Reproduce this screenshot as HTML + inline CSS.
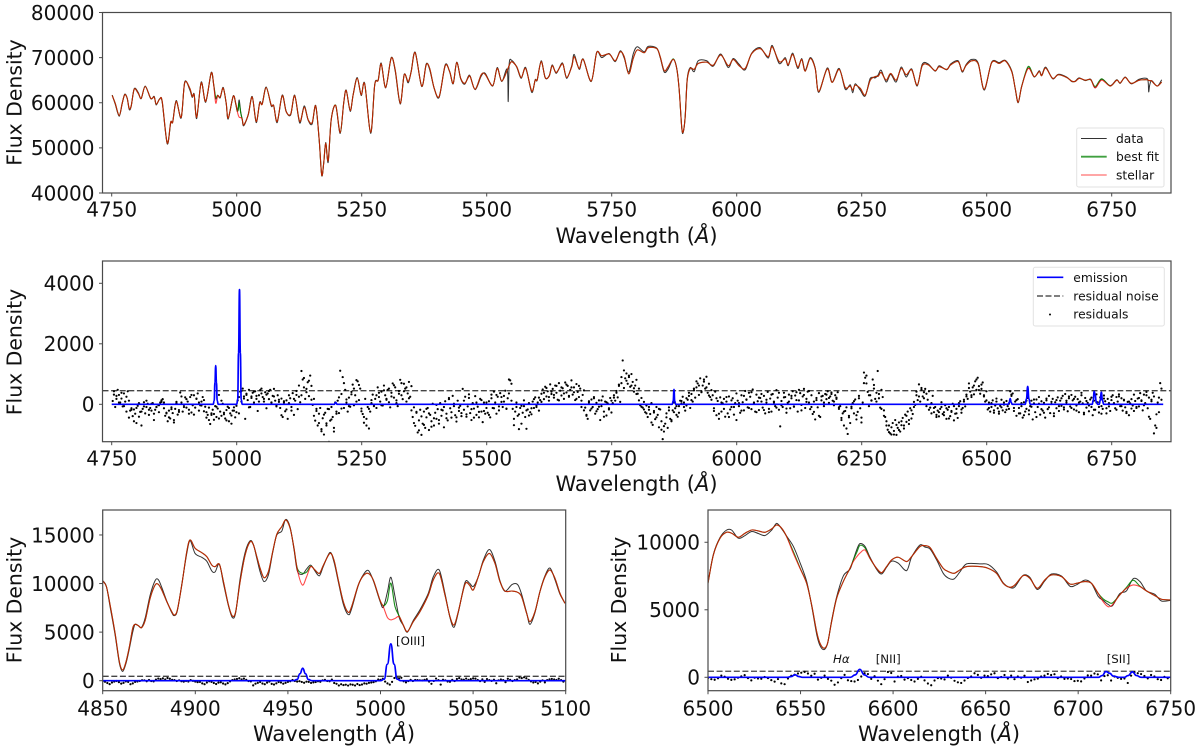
<!DOCTYPE html>
<html lang="en">
<head>
<meta charset="utf-8">
<title>Spectral fit</title>
<style>
html,body{margin:0;padding:0;background:#fff;}
svg{display:block;font-family:"DejaVu Sans","Liberation Sans",sans-serif;}
.tick{font-size:20px;fill:#111;}
.axis-label{font-size:21px;fill:#111;}
.y-title{font-size:20.4px;fill:#111;}
.legend-text{font-size:12.3px;fill:#111;}
.annot{font-size:11.8px;fill:#111;}
</style>
</head>
<body>
<svg id="figure" width="1200" height="752" viewBox="0 0 1200 752" xmlns="http://www.w3.org/2000/svg">
<rect x="0" y="0" width="1200" height="752" fill="#fff"/>
<defs id="defs"></defs>
<g id="plots"></g>

<g>
<rect x="1076.7" y="128" width="87.3" height="59" rx="2" fill="#fff" fill-opacity="0.8" stroke="#e2e2e2" stroke-width="1"/>
<line x1="1081" x2="1106.7" y1="138.5" y2="138.5" stroke="#333" stroke-width="1"/>
<text class="legend-text" x="1116" y="143">data</text>
<line x1="1081" x2="1106.7" y1="156.7" y2="156.7" stroke="#008000" stroke-opacity="0.75" stroke-width="1.8"/>
<text class="legend-text" x="1116" y="161.2">best fit</text>
<line x1="1081" x2="1106.7" y1="175" y2="175" stroke="#ff0000" stroke-opacity="0.7" stroke-width="0.9"/>
<text class="legend-text" x="1116" y="179.5">stellar</text>
</g>

<g>
<rect x="1033.3" y="267.3" width="131" height="58.7" rx="2" fill="#fff" fill-opacity="0.8" stroke="#e2e2e2" stroke-width="1"/>
<line x1="1037" x2="1063.3" y1="277.3" y2="277.3" stroke="#0000ff" stroke-width="1.7"/>
<text class="legend-text" x="1073.3" y="281.8">emission</text>
<line x1="1037" x2="1063.3" y1="296" y2="296" stroke="#555" stroke-width="1.4" stroke-dasharray="6 2.5"/>
<text class="legend-text" x="1073.3" y="300.5">residual noise</text>
<circle cx="1050" cy="314.5" r="1" fill="#000"/>
<text class="legend-text" x="1073.3" y="318.5">residuals</text>
</g>

<text class="annot" x="396" y="645">[OIII]</text>
<text class="annot" x="833" y="663" font-style="italic">Hα</text>
<text class="annot" x="875.7" y="663">[NII]</text>
<text class="annot" x="1106.7" y="663">[SII]</text>
</svg>

<script>
// ---------- Full-range spectrum ----------
const topWave = [
4751,4757,4765,4771,4776,4781,4785,4789,4795,4803,
4809,4817,4828,4835,4839,4846,4851,4861,4868,4872,
4879,4889,4896,4906,4911,4915,4920,4929,4938,4949,
4954,4958,4962,4967,4973,4979,4983,4993,4998,5001,
5003,5005,5008,5011,5014,5023,5031,5039,5046,5051,
5059,5069,5074,5081,5091,5099,5108,5116,5126,5135,
5143,5151,5158,5165,5170,5174,5178,5183,5189,5198,
5207,5214,5219,5227,5233,5241,5249,5256,5268,5276,
5283,5289,5298,5309,5317,5327,5335,5343,5349,5357,
5370,5379,5386,5395,5405,5417,5426,5433,5440,5448,
5456,5463,5467,5477,5489,5497,5512,5521,5530,5541,
5543,5545,5550,5560,5569,5578,5590,5597,5601,5609,
5617,5625,5631,5639,5649,5653,5660,5670,5675,5685,
5693,5709,5720,5730,5745,5757,5767,5775,5784,5793,
5801,5815,5823,5840,5847,5855,5863,5873,5880,5885,
5890,5893,5897,5901,5907,5915,5923,5940,5953,5968,
5983,5993,6005,6017,6030,6047,6063,6071,6085,6097,
6103,6112,6122,6130,6137,6147,6157,6164,6181,6191,
6205,6217,6227,6232,6237,6247,6257,6267,6277,6283,
6289,6299,6308,6319,6329,6339,6350,6361,6371,6383,
6397,6405,6420,6428,6443,6451,6459,6470,6483,6495,
6510,6525,6537,6550,6557,6563,6570,6583,6595,6605,
6610,6618,6632,6643,6660,6670,6677,6685,6697,6708,
6717,6730,6747,6760,6767,6777,6789,6805,6820,6823,
6824,6826,6830,6841,6850];
const topStellar = [
61620,59900,57200,59900,61770,61000,58750,59300,63000,62100,
61000,63600,61000,61250,59700,60800,60300,51100,55700,55700,
60300,56800,64400,63250,61400,61700,56800,64400,60300,66570,
64000,59930,61550,61260,63250,59930,56600,61400,59900,58200,
57300,56800,56700,56400,55100,57300,61250,55850,59950,59700,
63350,59500,59300,55850,61550,58000,57500,61550,55850,59000,
56200,55600,59300,51800,44000,46600,51000,47200,56200,59400,
53400,59900,62700,58300,61800,65400,61800,64150,53450,63900,
65000,68600,63400,69850,67300,59900,66200,64700,66900,71100,
63700,68400,67600,63200,61400,68200,66900,64300,68900,65400,
64300,65600,65800,63000,66200,66300,63800,67600,64800,67200,
67700,68300,69100,68000,65600,67600,62600,65000,65100,69100,
65600,65900,68200,66700,68400,68400,65600,68000,70200,67600,
69600,64800,71100,70400,70800,69300,71300,70200,66400,69800,
71700,71100,72200,72000,70200,67100,68000,69600,67600,62800,
54700,53600,56900,65000,67600,67400,68700,69000,68300,70600,
68200,69600,68200,67600,70900,72000,70200,72400,69100,69700,
68400,70700,67900,69600,67000,69800,67600,62500,67500,64500,
67400,63400,63700,62800,63900,63200,61700,65000,65800,65900,
66700,65000,66500,65000,67600,66200,67300,63900,68200,68400,
67100,68000,67400,68400,69100,67000,68300,69300,68600,63000,
68900,68700,69300,66900,63200,60100,63600,67600,65800,66900,
66000,67700,65400,66200,65600,64800,64700,65400,65000,65100,
63300,65000,63700,65000,64400,65600,64300,65000,65100,65000,
64950,64900,64800,63700,64600];
const topData = [
61700,59700,57000,59800,61900,61000,58500,59200,63100,62300,
60900,63700,60900,61400,59500,60900,60100,50900,55500,55800,
60500,56600,64600,62900,61200,61900,56500,64600,60100,66700,
63900,60900,61700,61100,63400,59800,56400,61500,59700,58100,
59000,60600,58000,56300,54900,57400,61400,55600,60100,59800,
63500,59300,59400,55600,61700,58100,57300,61700,55500,59300,
56100,55300,59400,51600,43900,46600,51200,46800,56300,59300,
53200,60000,62800,58100,61900,65600,61600,64300,53200,64000,
65100,68800,63300,70000,67000,59700,66300,64400,67000,71200,
63600,68600,67300,63200,61200,68400,66800,64200,69000,65300,
64100,65800,65900,62900,65900,66500,63700,67800,64700,67400,
60260,68700,69400,67900,65400,67800,62300,65100,65000,69300,
65500,66000,68400,66500,68600,68500,65400,68200,70700,67400,
69700,64700,71200,70000,70900,69100,71500,69900,66800,70800,
72400,71300,72500,72100,70000,66800,67500,69700,67700,62900,
54500,53400,57100,65300,67800,66900,69300,69300,68100,70800,
67800,69800,68500,67300,71000,72200,69900,72700,68700,70000,
68200,71000,67600,69800,67200,70000,67700,62300,67700,64600,
67600,63000,64000,62200,64200,62800,61500,65400,65500,66200,
67200,64600,66300,64600,67900,65700,67500,63700,68500,68600,
67000,68200,67300,68600,69300,66800,68500,69600,68800,62800,
69000,68900,69400,67100,63100,60000,63700,67700,65700,67100,
66100,67900,65300,66300,65700,64700,64800,65500,64900,65200,
63300,65200,63800,65100,64300,65700,64200,65200,65400,64500,
62400,63900,64900,63700,65100];

// ---------- Emission model ----------
const emissionWave = [4750,4953,4955,4956.5,4958,4959.5,4961,4963,5000,5002,5003.7,5005.6,5007.3,5009,5011,5195,5198,5201,5871,5873,5874.6,5876,5878,6543,6545,6547,6549,6551,6577,6579.5,6582,6584.5,6587,6711,6713,6715,6717,6719,6722,6725,6727,6729.3,6731.5,6734,6737,6853];
const emissionFlux = [0,0,120,720,1280,720,120,0,0,160,1700,3790,1700,160,0,0,60,0,0,110,490,110,0,0,60,190,60,0,0,180,590,180,0,0,130,430,300,90,0,0,130,400,130,0,0,0];
const residualNoise = [450, 450];

// ---------- Residuals, sampled every 2.5 A from 4752 ----------
const mainResidualStart = 4752;
const mainResidualStep = 2.5;
const mainResiduals = [
110,430,-90,280,480,310,60,190,-70,360,90,250,430,120,-210,-130,-390,-170,-310,-620,
-50,-410,-250,-700,-150,70,-300,-90,20,-350,-120,-210,40,-520,-180,-90,-10,-260,60,130,
170,-130,-380,-300,-560,-210,-470,-100,-290,-600,-150,80,-340,-190,390,60,-240,-20,230,-110,
90,-310,240,-270,-30,300,-110,180,360,-210,-30,90,240,140,-80,-260,-350,-520,-650,-300,
-180,-510,-60,-420,-140,310,-240,-380,20,-330,-470,-190,-80,-560,-300,-640,-210,-100,-430,-260,
130,-300,420,90,520,260,-480,310,140,480,-90,260,380,60,430,180,-220,300,470,520,
240,90,400,-130,360,170,480,60,280,510,120,-40,300,80,-120,190,-420,60,-230,130,
-480,40,200,-90,370,-350,120,310,-160,250,70,1100,820,560,180,400,730,270,950,610,
-20,180,-540,-220,-700,-310,-120,-820,-460,-1000,-280,-630,-150,-1240,-540,-90,-420,-780,60,-310,
120,-290,1110,340,900,-120,480,60,-240,220,-80,410,650,-30,300,800,760,140,520,-140,
-320,-610,180,-480,-90,-800,-240,40,320,-60,180,-120,560,240,90,420,-40,620,300,150,
480,70,-100,380,690,220,560,130,-60,440,810,300,170,680,520,90,360,740,250,600,
-420,-100,-710,-280,-930,-530,-180,-1010,-640,-240,-780,-430,-120,-850,-350,-560,20,-700,-280,-480,
-160,-640,40,-380,-200,-760,100,-310,-530,210,-130,-440,280,-60,-360,-570,120,-220,-50,-390,
510,-180,250,-410,-70,330,-290,-520,40,-140,270,-350,-80,-430,180,-240,-590,60,-310,-120,
-280,100,-430,320,-120,420,60,-310,250,-200,370,80,-90,280,450,-150,200,820,790,120,
-150,-690,-240,60,-380,-820,-120,-50,-280,130,-420,-810,-170,40,-260,-330,90,-120,230,-90,
60,-210,140,350,490,170,580,260,430,120,660,340,510,220,620,380,150,700,450,290,
530,180,720,390,610,250,480,790,320,560,140,670,410,240,520,-90,310,460,-110,-350,
-480,100,-200,160,-90,240,-310,50,-160,130,-520,-60,260,-240,90,-370,30,-130,210,-270,
40,300,120,440,230,610,80,700,1450,540,860,1020,680,900,580,1000,740,420,620,810,
350,520,-30,210,-110,80,-260,-40,-420,-180,-320,40,-680,-220,-490,-90,-350,-760,-170,-560,
-1150,-900,-640,-300,-780,-100,-480,-560,-200,60,-130,-350,-410,-60,120,30,250,60,-210,-40,
150,280,-120,340,90,460,220,560,690,310,860,430,620,750,520,910,380,680,240,470,
300,-130,420,-360,110,-480,230,-240,30,180,-410,90,-300,260,-170,-90,200,-340,40,-520,
120,-60,-280,300,70,-200,440,150,-100,380,250,-160,490,30,-240,320,100,-190,210,340,
-110,280,-300,60,410,-150,190,-240,340,90,-60,470,220,-180,-730,110,-90,380,240,-280,
50,320,-130,200,430,-80,290,140,-240,480,370,-20,260,510,-120,180,420,60,-160,300,
-320,90,-500,210,-100,370,-420,130,280,-60,340,170,430,50,260,390,120,-30,300,180,
400,-150,-60,-450,-300,-700,-220,-100,-980,-380,-620,-80,40,-300,160,-500,-250,280,-130,-440,
60,1050,880,690,410,-60,300,130,820,520,180,90,1100,340,-110,480,240,-200,-420,-560,
-840,-700,-960,-1000,-620,-880,-520,-1010,-780,-600,-900,-690,-450,-800,-340,-580,-240,-650,-130,-470,
-320,-90,-20,300,140,660,90,540,260,400,510,350,150,430,-110,40,280,-260,-90,-350,
-210,-400,-150,70,-320,-260,-30,-480,-180,-90,-390,-250,20,-530,-310,-150,-450,-60,100,-280,
-120,150,-70,320,180,690,420,240,560,330,760,480,880,600,350,510,720,260,90,430,
-170,60,-240,-90,130,-280,-40,190,-130,-310,-50,150,-200,-10,-260,110,-60,-150,430,280,
360,-220,90,-380,170,-120,-300,40,-440,70,-240,-150,210,-330,-60,120,-500,30,-260,160,
-90,240,-340,100,-210,50,-440,130,-160,280,-290,10,180,-390,70,-130,230,-220,120,-50,
280,-100,340,60,-230,200,-70,310,130,-170,250,-40,170,-260,90,380,30,-330,210,-110,
50,-230,160,-90,-360,120,-180,330,70,-270,230,-60,-150,290,100,-300,180,-70,-220,140,
300,40,-130,240,90,330,-60,200,-210,130,-100,-290,80,-360,30,170,-40,-220,110,-120,
190,-70,370,110,-200,320,40,410,-130,220,-480,150,380,-960,-700,-330,60,220,700,150];
// Second interleaved set of residual samples, every 5 A from 4754.5
const extraResidualStart = 4754.5;
const extraResidualStep = 5;
const extraResiduals = [
320,180,60,380,-60,-240,-440,-180,-560,-120,40,-240,-70,120,-180,20,-310,-90,-30,80,
60,-280,-430,-160,-520,40,-250,260,-90,170,-180,310,-340,190,60,-40,-230,-440,-110,-350,
-320,-80,-470,120,-280,-530,-120,-370,-210,-50,240,440,190,350,-100,210,420,280,90,360,
180,320,440,60,260,-70,150,-360,100,-170,300,-210,180,440,620,300,870,510,780,150,
-380,-150,-620,-890,-340,-700,-160,-500,-900,-240,230,-140,700,160,-60,330,520,90,640,-230,
-420,-700,-150,140,-20,300,380,-30,460,180,520,260,630,40,350,700,430,560,200,-200,
-620,-250,-860,-400,-680,-150,-300,-740,-460,-20,-520,-180,-90,-460,170,-260,20,-430,-110,-290,
120,-330,210,-160,-440,60,-250,140,-220,60,-350,200,-130,310,-70,240,90,-140,360,680,
-480,-90,-330,-640,-60,-200,-370,-130,170,-40,220,80,380,540,240,420,310,610,130,560,
360,650,280,560,400,180,610,120,-200,-380,60,-140,200,-230,-80,130,-410,70,-170,120,
220,380,650,900,1120,780,950,620,530,340,130,-80,-170,-300,-90,-600,-270,-430,-150,-840,
-720,-430,-200,-520,-260,-60,-280,110,-90,200,380,140,520,760,620,400,820,560,290,150,
-220,200,-310,60,-150,240,-420,130,-90,360,40,-210,280,160,-120,400,60,-260,220,90,
-190,150,-260,320,60,-110,380,-30,230,-140,90,280,-70,400,130,-200,310,80,440,-90,
-250,140,-380,260,60,320,210,340,90,220,-100,-520,-240,-800,-430,-130,100,-360,200,-600,
700,950,300,120,640,380,200,-150,-380,-700,-920,-760,-1000,-680,-850,-560,-700,-380,-520,-200,
80,420,260,480,200,-60,-180,-300,-120,-420,-260,-90,-360,-130,-470,-220,-60,-300,40,-170,
90,260,540,300,620,820,470,650,300,130,-120,40,-200,90,-240,-100,60,-180,20,320,
-120,140,-300,-60,-360,120,-200,-80,160,-420,20,-160,-280,190,-100,80,-300,140,-60,200,
-170,120,260,-120,180,-210,60,300,-280,110,-40,220,-180,60,-90,-310,190,-130,40,250,
20,-180,260,-60,150,-250,90,-140,320,-90,210,130,-30,300,-410,100,260,-780,-260,520];

// ---------- OIII zoom ----------
const blueWave = [
4850,4852,4854,4856.7,4859,4860.8,4862.6,4864.4,4866.2,4867.5,
4869.3,4871,4873,4875.6,4878.3,4880,4881.9,4884.6,4887.3,4888.7,
4890.3,4892.7,4895.4,4897.2,4899.9,4903.5,4906.2,4908.9,4910.7,4913,
4915.2,4917.9,4920,4921.8,4924.2,4926.9,4929.6,4931.4,4933.2,4935,
4937.1,4939.5,4941.8,4944,4946.7,4948.8,4951.2,4953.3,4955.1,4957.8,
4960.1,4962.3,4964.6,4967,4969.2,4972.7,4974.9,4977.2,4979.9,4982.6,
4984.4,4988,4990.7,4993.4,4996.1,4999.7,5001.5,5003.7,5005.6,5007.8,
5010.1,5012.3,5014.5,5017.7,5021.3,5025.8,5028.5,5031.7,5034.8,5037.5,
5039.7,5042,5045.6,5048,5050.1,5052.8,5055.5,5058.8,5061.8,5064.5,
5067.2,5071,5074,5076.2,5078.9,5080.7,5083.4,5086.1,5088.8,5091.5,
5094.2,5096.9,5099.6];
const blueStellar = [
10265,9680,7790,4875,1957,1100,1957,3500,5390,5800,
5660,5460,6250,8480,9850,9920,9340,8140,7100,6760,
7280,9850,13290,14490,13630,13180,12770,11900,11740,11980,
10200,7790,6660,7100,10200,12940,14300,13970,12770,11570,
10600,11230,13290,15070,15860,16550,15690,13630,11400,9850,
10700,11740,11400,11050,11900,13100,12400,10370,8140,7040,
7620,9850,10800,11050,10370,8300,7620,6520,6260,6400,
6590,5730,5050,6080,7100,8820,10370,11050,8820,6590,
5730,7100,9920,9850,9340,10700,12250,13100,12080,10200,
9230,9230,9100,8650,6930,6080,7100,9170,10700,11400,
10540,9000,7960];
const blueData = [
10300,9700,7600,4700,1800,950,1800,3300,5000,5800,
5650,5500,6500,8800,10300,10400,9600,8200,7000,6700,
7200,9900,13100,14400,13100,12700,12300,11300,11200,12000,
10000,7700,6500,7000,10500,13200,14400,14000,12600,11200,
10200,10900,13200,15000,15400,16600,15800,13500,11300,10950,
11500,11900,11300,10800,11800,13200,12200,10200,7900,6800,
7400,9800,10900,11350,10300,8200,7550,9100,10650,8700,
6500,5700,5000,6200,7300,9000,10700,11400,9000,6500,
5500,7000,10100,10050,9700,10700,12400,13500,12300,10300,
9200,9900,9900,8900,7000,5800,7000,9200,10800,11600,
10400,8900,8000];
const blueResidualStart = 4850;
const blueResidualStep = 1.25;
const blueResiduals = [
-60,-110,-240,-350,-190,-90,-30,-150,-300,-220,-70,-120,-360,-280,-120,-80,-30,50,40,-60,
80,-40,-70,110,220,160,240,120,280,200,90,60,-30,40,-60,-100,-30,-80,60,-20,
-90,-150,-120,-280,-360,-190,-60,-120,-240,-340,-200,-160,-290,-380,-250,-70,60,120,180,250,
130,210,90,-40,-70,-480,-310,-220,-130,-290,-360,-200,-90,-330,-390,-270,-140,-190,-310,-220,
-120,-60,80,-30,-90,-50,-130,-210,-100,-120,-230,-170,-140,-60,-110,30,90,-30,-60,110,
-240,-320,-490,-360,-450,-410,-500,-380,-420,-490,-340,-450,-390,-280,-310,-220,-190,-150,-60,120,
90,200,-90,-280,-400,-120,280,330,250,300,-60,-170,-40,90,-30,80,60,40,20,90,
150,-90,-320,-30,220,60,-400,100,40,-80,-110,90,-40,180,270,130,100,220,90,160,
240,210,70,-50,140,-120,170,60,-20,100,-260,40,120,60,-150,200,90,-30,60,120,
330,270,350,250,90,-70,-190,-130,-280,-100,30,-170,60,140,180,120,80,200,60,-100];

// ---------- H-alpha zoom ----------
const redWave = [
6500,6502.9,6506.5,6510,6512.8,6516.4,6520,6523.6,6527.2,6530.8,
6534.4,6537.1,6539.8,6542.5,6546.1,6549.7,6553.3,6556,6558.7,6560.5,
6562.7,6564.6,6566.8,6569.5,6573.1,6576.7,6578.5,6580.5,6582.1,6584.8,
6587.5,6591.1,6593.8,6596.5,6599.2,6602.8,6607.3,6610,6614.5,6617.2,
6620,6623.5,6627.1,6629.8,6632.9,6636.1,6639.7,6646.9,6651.4,6655.9,
6659.5,6663.1,6665.8,6670.3,6673.9,6677.9,6682,6685.6,6691,6695.5,
6699.1,6703.6,6707.2,6710.8,6713.5,6716.2,6718.5,6722.5,6726.1,6729.7,
6733.3,6736.9,6741.4,6745,6749.9];
const redStellar = [
6960,9060,10300,10740,10670,10370,10670,10910,10840,10740,
10990,11280,11040,10420,9180,8070,6960,5360,3380,2520,
2150,2520,4120,5850,7090,8070,8570,8950,9200,9430,
8810,8070,7750,8200,8690,8890,8570,8940,9680,9750,
9600,8810,8070,7830,7700,7950,8200,8200,8070,7700,
6960,6670,6840,7530,7330,6590,7210,7580,7460,6910,
6960,7090,6960,6220,5600,5230,5360,6100,6590,6840,
6720,6400,6050,5780,5730];
const redData = [
7000,9100,10350,10900,10900,10300,10500,10800,10650,10500,
10900,11400,11000,10450,9700,8500,7100,5300,3200,2350,
2050,2500,4200,5950,7500,8000,8700,9500,9900,9700,
8900,8000,7650,8150,8600,8450,7900,8900,9800,9650,
9500,8700,7700,7350,7280,7800,8400,8400,8350,7800,
7000,6650,6700,7550,7400,6500,7150,7650,7500,6750,
6850,7200,6950,6000,5700,5400,5300,6200,6400,7300,
7100,6400,6150,5650,5700];
const redResidualStart = 6500;
const redResidualStep = 1.8;
const redResiduals = [
-50,-140,-180,-70,130,40,-110,-190,-150,-30,70,160,-60,-230,-30,-90,-110,20,-60,-210,
-320,-130,-450,-510,-90,120,190,280,340,400,280,120,260,-170,-40,130,-120,-250,-550,-380,
-60,180,-220,-280,-310,-200,60,300,240,-120,80,-250,-510,-140,390,320,-310,50,100,-170,
-60,-200,-310,-120,40,-230,-460,-590,-240,-60,-90,-160,130,-30,-260,-370,-420,-240,-50,60,
300,180,-40,130,90,220,300,-60,20,170,-90,130,-140,60,-30,120,-350,-240,-150,-100,
60,130,250,170,230,-60,60,-120,-90,-130,-280,-260,-300,-90,140,130,280,220,-230,90,
150,-240,60,-40,-120,-90,-420,120,380,300,240,100,-80,170,60,-140,-200,30,-70];

// ---------- Tick labels ----------
const wideTicks = [4750,5000,5250,5500,5750,6000,6250,6500,6750];
const stellarYTicks = [40000,50000,60000,70000,80000];
const residualYTicks = [0,2000,4000];
const blueXTicks = [4850,4900,4950,5000,5050,5100];
const blueYTicks = [0,5000,10000,15000];
const redXTicks = [6500,6550,6600,6650,6700,6750];
const redYTicks = [0,5000,10000];

// ---------- Helpers ----------
const NS = 'http://www.w3.org/2000/svg';
const plots = document.getElementById('plots');
const defs = document.getElementById('defs');

function linear(d0, d1, r0, r1) {
  return function (v) { return r0 + (v - d0) * (r1 - r0) / (d1 - d0); };
}
function svgEl(tag, parent) {
  const e = document.createElementNS(NS, tag);
  parent.appendChild(e);
  return e;
}
function curvePath(xv, yv, sx, sy) {
  const p = xv.map(function (x, i) { return [sx(x), sy(yv[i])]; });
  let d = 'M' + p[0][0].toFixed(2) + ' ' + p[0][1].toFixed(2);
  const k = 0.16;
  for (let i = 0; i < p.length - 1; i++) {
    const a = p[Math.max(i - 1, 0)], b = p[i], c = p[i + 1], e = p[Math.min(i + 2, p.length - 1)];
    const c1x = b[0] + (c[0] - a[0]) * k, c1y = b[1] + (c[1] - a[1]) * k;
    const c2x = c[0] - (e[0] - b[0]) * k, c2y = c[1] - (e[1] - b[1]) * k;
    d += 'C' + c1x.toFixed(2) + ' ' + c1y.toFixed(2) + ' ' + c2x.toFixed(2) + ' ' + c2y.toFixed(2) + ' ' + c[0].toFixed(2) + ' ' + c[1].toFixed(2);
  }
  return d;
}
// Round-shouldered path that never overshoots between widely spaced samples
function easedPath(xv, yv, sx, sy) {
  const p = xv.map(function (x, i) { return [sx(x), sy(yv[i])]; });
  let d = 'M' + p[0][0].toFixed(2) + ' ' + p[0][1].toFixed(2);
  for (let i = 0; i < p.length - 1; i++) {
    const b = p[i], c = p[i + 1], mid = (b[0] + c[0]) / 2;
    d += 'C' + mid.toFixed(2) + ' ' + b[1].toFixed(2) + ' ' + mid.toFixed(2) + ' ' + c[1].toFixed(2) + ' ' + c[0].toFixed(2) + ' ' + c[1].toFixed(2);
  }
  return d;
}
function emissionAt(w) {
  for (let i = 0; i < emissionWave.length - 1; i++) {
    if (w >= emissionWave[i] && w <= emissionWave[i + 1]) {
      const t = (w - emissionWave[i]) / (emissionWave[i + 1] - emissionWave[i]);
      return emissionFlux[i] + t * (emissionFlux[i + 1] - emissionFlux[i]);
    }
  }
  return 0;
}
function bestFit(wave, stellar) {
  return wave.map(function (w, i) { return stellar[i] + emissionAt(w); });
}
function residualWaves(start, step, values) {
  return values.map(function (_, i) { return start + i * step; });
}

function makePanel(id, box, xDom, yDom, xTicks, yTicks, labelX, tickBase, labelBase, ylabelCenter) {
  const g = svgEl('g', plots);
  
  
  const clip = svgEl('clipPath', defs);
  clip.setAttribute('id', 'clip-' + id);
  const cr = svgEl('rect', clip);
  cr.setAttribute('x', box.l);
  cr.setAttribute('y', box.t);
  cr.setAttribute('width', box.r - box.l);
  cr.setAttribute('height', box.b - box.t);
  const sx = linear(xDom[0], xDom[1], box.l, box.r);
  const sy = linear(yDom[0], yDom[1], box.b, box.t);
  const marks = svgEl('g', g);
  marks.setAttribute('clip-path', 'url(#clip-' + id + ')');
  
  

  const frame = svgEl('rect', g);
  frame.setAttribute('x', box.l);
  frame.setAttribute('y', box.t);
  frame.setAttribute('width', box.r - box.l);
  frame.setAttribute('height', box.b - box.t);
  frame.setAttribute('fill', 'none');
  frame.setAttribute('stroke', '#4a4a4a');
  frame.setAttribute('stroke-width', '1.2');
  
  

  xTicks.forEach(function (t) {
    const x = sx(t);
    const tk = svgEl('line', g);
    tk.setAttribute('x1', x);
    tk.setAttribute('x2', x);
    tk.setAttribute('y1', box.b);
    tk.setAttribute('y2', box.b + 3.5);
    tk.setAttribute('stroke', '#4a4a4a');
    tk.setAttribute('stroke-width', '1');
    
    
    const tx = svgEl('text', g);
    tx.setAttribute('x', x);
    tx.setAttribute('y', tickBase);
    tx.setAttribute('text-anchor', 'middle');
    tx.setAttribute('class', 'tick');
    
    
    tx.textContent = t;
  });
  yTicks.forEach(function (t) {
    const y = sy(t);
    const tk = svgEl('line', g);
    tk.setAttribute('x1', box.l - 3.5);
    tk.setAttribute('x2', box.l);
    tk.setAttribute('y1', y);
    tk.setAttribute('y2', y);
    tk.setAttribute('stroke', '#4a4a4a');
    tk.setAttribute('stroke-width', '1');
    
    
    const tx = svgEl('text', g);
    tx.setAttribute('x', box.l - 8);
    tx.setAttribute('y', y + 7.3);
    tx.setAttribute('text-anchor', 'end');
    tx.setAttribute('class', 'tick');
    
    
    tx.textContent = t;
  });

  const xl = svgEl('text', g);
  xl.setAttribute('x', labelX);
  xl.setAttribute('y', labelBase);
  xl.setAttribute('text-anchor', 'middle');
  xl.setAttribute('class', 'axis-label');
  
  
  xl.textContent = 'Wavelength (';
  const an = svgEl('tspan', xl);
  an.setAttribute('font-style', 'italic');
  an.textContent = 'Å';
  xl.appendChild(document.createTextNode(')'));

  const yl = svgEl('text', g);
  yl.setAttribute('transform', 'translate(' + ylabelCenter[0] + ' ' + ylabelCenter[1] + ') rotate(-90)');
  yl.setAttribute('text-anchor', 'middle');
  yl.setAttribute('class', 'y-title');
  
  
  yl.textContent = 'Flux Density';

  return { marks: marks, sx: sx, sy: sy, xDom: xDom };
}

function drawCurve(panel, name, xv, yv, color, width, opacity) {
  const p = svgEl('path', panel.marks);
  p.setAttribute('d', curvePath(xv, yv, panel.sx, panel.sy));
  p.setAttribute('fill', 'none');
  p.setAttribute('stroke', color);
  p.setAttribute('stroke-width', width);
  p.setAttribute('stroke-opacity', opacity);
  p.setAttribute('stroke-linejoin', 'round');
  
  
  return p;
}
function drawDots(panel, name, start, step, values) {
  const wv = residualWaves(start, step, values);
  const gd = svgEl('g', panel.marks);
  
  
  wv.forEach(function (w, i) {
    const c = svgEl('circle', gd);
    c.setAttribute('cx', panel.sx(w).toFixed(2));
    c.setAttribute('cy', panel.sy(values[i]).toFixed(2));
    c.setAttribute('r', '1.1');
    c.setAttribute('fill', '#000');
    
    
  });
}
function drawNoise(panel, name) {
  const l = svgEl('line', panel.marks);
  l.setAttribute('x1', panel.sx(panel.xDom[0]));
  l.setAttribute('x2', panel.sx(panel.xDom[1]));
  l.setAttribute('y1', panel.sy(residualNoise[0]));
  l.setAttribute('y2', panel.sy(residualNoise[1]));
  l.setAttribute('stroke', '#444');
  l.setAttribute('stroke-width', '1.3');
  l.setAttribute('stroke-dasharray', '6 2.6');
  
  
}
function drawEmission(panel, name) {
  const p = svgEl('path', panel.marks);
  p.setAttribute('d', easedPath(emissionWave, emissionFlux, panel.sx, panel.sy));
  p.setAttribute('fill', 'none');
  p.setAttribute('stroke', '#0000ff');
  p.setAttribute('stroke-width', '1.7');
  p.setAttribute('stroke-linejoin', 'round');
  
  
}

// ---------- Panels ----------
const wideX = [4731.6, 6868.6];

const panelTop = makePanel('stellar-fit', { l: 102.5, r: 1171, t: 12.5, b: 193 }, wideX, [40000, 80000], wideTicks, stellarYTicks, 636.5, 216.5, 243, [21.5, 102.5]);
drawCurve(panelTop, 'data-line', topWave, topData, '#333', 1, 1);
drawCurve(panelTop, 'best-fit-line', topWave, bestFit(topWave, topStellar), '#008000', 1.1, 0.9);
drawCurve(panelTop, 'stellar-line', topWave, topStellar, '#ff0000', 1.1, 0.72);

const panelMid = makePanel('residuals', { l: 102.5, r: 1171, t: 261, b: 441.7 }, wideX, [-1236, 4737], wideTicks, residualYTicks, 636.5, 465.5, 491, [21.5, 352]);
drawNoise(panelMid, 'residual-noise-line');
drawDots(panelMid, 'residual-points', mainResidualStart, mainResidualStep, mainResiduals);
drawDots(panelMid, 'residual-points-interleaved', extraResidualStart, extraResidualStep, extraResiduals);
drawEmission(panelMid, 'emission-line');

const panelBlue = makePanel('oiii-zoom', { l: 102.7, r: 565.7, t: 510, b: 690.7 }, [4850, 5100], [-1030, 17570], blueXTicks, blueYTicks, 334, 715.5, 741, [21.5, 600]);
drawCurve(panelBlue, 'oiii-data-line', blueWave, blueData, '#333', 1, 1);
drawCurve(panelBlue, 'oiii-best-fit-line', blueWave, bestFit(blueWave, blueStellar), '#008000', 1.1, 0.9);
drawCurve(panelBlue, 'oiii-stellar-line', blueWave, blueStellar, '#ff0000', 1.1, 0.72);
drawNoise(panelBlue, 'oiii-noise-line');
drawDots(panelBlue, 'oiii-residual-points', blueResidualStart, blueResidualStep, blueResiduals);
drawEmission(panelBlue, 'oiii-emission-line');

const panelRed = makePanel('halpha-zoom', { l: 708, r: 1170.7, t: 510, b: 690.7 }, [6500, 6750], [-993, 12390], redXTicks, redYTicks, 939, 715.5, 741, [626, 600]);
drawCurve(panelRed, 'halpha-data-line', redWave, redData, '#333', 1, 1);
drawCurve(panelRed, 'halpha-best-fit-line', redWave, bestFit(redWave, redStellar), '#008000', 1.1, 0.9);
drawCurve(panelRed, 'halpha-stellar-line', redWave, redStellar, '#ff0000', 1.1, 0.72);
drawNoise(panelRed, 'halpha-noise-line');
drawDots(panelRed, 'halpha-residual-points', redResidualStart, redResidualStep, redResiduals);
drawEmission(panelRed, 'halpha-emission-line');
</script>
</body>
</html>
